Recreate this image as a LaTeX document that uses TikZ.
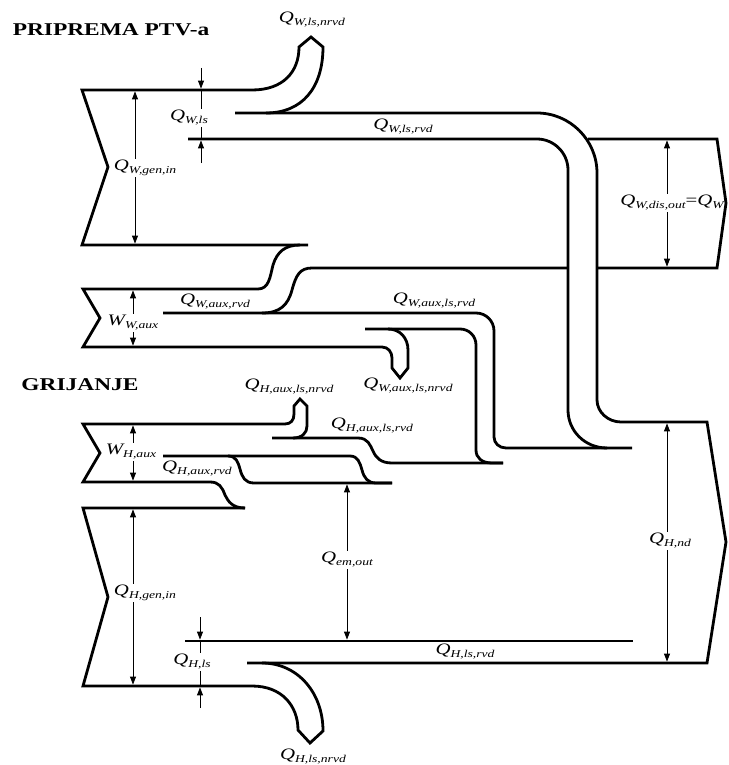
\documentclass[tikz,border=0pt]{standalone}
\usepackage{fontspec}
\setmainfont{Liberation Serif}
\usepackage{graphicx}
\usetikzlibrary{arrows.meta}

\newcommand{\Qlab}[2]{\scalebox{1.3}[1]{\fontsize{16}{18}\selectfont\itshape #1\raisebox{-3pt}{\fontsize{10.5}{12}\selectfont #2}}}
\newcommand{\Titl}[1]{\scalebox{1.3}[1]{\fontsize{18}{20}\selectfont\bfseries #1}}

\tikzset{
 flow/.style={line width=2.8pt, line join=miter, line cap=butt},
 dimline/.style={line width=0.9pt},
 dimboth/.style={line width=0.9pt, {Triangle[length=8pt,width=6pt]}-{Triangle[length=8pt,width=6pt]}},
 dimend/.style={line width=0.9pt, -{Triangle[length=8pt,width=6pt]}},
 lab/.style={inner sep=1pt, fill=white},
 plab/.style={inner sep=1pt},
}

\begin{document}
\begin{tikzpicture}[x=1pt,y=-1pt]
\useasboundingbox (0,0) rectangle (728,765);

% ---------- dimension arrows ----------
\draw[dimboth] (135,91.4) -- (135,243.6);
\draw[dimend] (201,68) -- (201,88.6);
\draw[dimend] (201,163) -- (201,140.4);
\draw[dimline] (201,90) -- (201,139);
\draw[dimboth] (667,140.4) -- (667,266.6);
\draw[dimboth] (133,290.4) -- (133,345.6);
\draw[dimboth] (133,425.4) -- (133,480.6);
\draw[dimboth] (133,509.4) -- (133,684.6);
\draw[dimboth] (347,484.4) -- (347,639.6);
\draw[dimboth] (667,423.4) -- (667,661.6);
\draw[dimend] (200,617) -- (200,639.6);
\draw[dimend] (200,708) -- (200,687.4);
\draw[dimline] (200,641) -- (200,686);

% ---------- labels ----------
\node[plab] (tW) at (111,30) {\Titl{PRIPREMA PTV-a}};
\node[plab] (tH) at (80,385) {\Titl{GRIJANJE}};
\node[plab] (lWlsnrvd) at (312,20) {\Qlab{Q}{W,ls,nrvd}};
\node[lab] (lWls) at (189,118) {\Qlab{Q}{W,ls}};
\node[plab] (lWlsrvd) at (403,127) {\Qlab{Q}{W,ls,rvd}};
\node[lab] (lWgen) at (145,168) {\Qlab{Q}{W,gen,in}};
\node[lab] (lWout) at (672,203) {\scalebox{1.3}[1]{\fontsize{16}{18}\selectfont\itshape Q\raisebox{-3pt}{\fontsize{10.5}{12}\selectfont W,dis,out}\upshape=\itshape Q\raisebox{-3pt}{\fontsize{10.5}{12}\selectfont W}}};
\node[plab] (lWauxrvd) at (215,302) {\Qlab{Q}{W,aux,rvd}};
\node[lab] (lWaux) at (133,323) {\Qlab{W}{W,aux}};
\node[plab] (lWauxlsrvd) at (434,301) {\Qlab{Q}{W,aux,ls,rvd}};
\node[plab] (lWauxlsnrvd) at (408,386) {\Qlab{Q}{W,aux,ls,nrvd}};
\node[plab] (lHauxlsnrvd) at (289,387) {\Qlab{Q}{H,aux,ls,nrvd}};
\node[plab] (lHauxlsrvd) at (372,426) {\Qlab{Q}{H,aux,ls,rvd}};
\node[lab] (lHaux) at (131,452) {\Qlab{W}{H,aux}};
\node[plab] (lHauxrvd) at (197,469) {\Qlab{Q}{H,aux,rvd}};
\node[lab] (lem) at (347,560) {\Qlab{Q}{em,out}};
\node[lab] (lHnd) at (670,541) {\Qlab{Q}{H,nd}};
\node[lab] (lHgen) at (145,593) {\Qlab{Q}{H,gen,in}};
\node[lab] (lHls) at (192,662) {\Qlab{Q}{H,ls}};
\node[plab] (lHlsrvd) at (465,652) {\Qlab{Q}{H,ls,rvd}};
\node[plab] (lHlsnrvd) at (313,757) {\Qlab{Q}{H,ls,nrvd}};

% ---------- W main input with non-recovered loss ----------
\draw[flow] (308,245) -- (82,245) -- (108,167) -- (82,90) -- (252,90)
  .. controls (283,90) and (299,72) .. (299,47) -- (311,37) -- (323,47)
  .. controls (323,88) and (302,113) .. (266,113);

% recovered W loss: outer line, big pipe, H output
\draw[flow] (235,113) -- (537,113) .. controls (570,113) and (597,140) .. (597,173)
  -- (597,400) .. controls (597,412) and (608,422) .. (621,422)
  -- (707,422) -- (726,542) -- (707,663) -- (247,663);

% big pipe inner line
\draw[flow] (188,139) -- (537,139) .. controls (554,139) and (568,153) .. (568,170)
  -- (568,410) .. controls (568,431) and (585,448) .. (607,448) -- (632,448);

% W output box
\draw[flow] (588,139) -- (717,139) -- (726,203) -- (717,268) -- (597,268);
\draw[flow] (568,268) -- (312,268) .. controls (300,268) and (296,275) .. (292,290)
  .. controls (288,305) and (280,313) .. (262,313);

% W aux input
\draw[flow] (300,245) .. controls (285,245) and (277,252) .. (273,265)
  .. controls (270,277) and (269,289) .. (258,289) -- (83,289) -- (100,318) -- (83,347)
  -- (382,347) .. controls (388,347) and (392,352) .. (392,358) -- (392,368)
  -- (400,378) -- (408,368) -- (408,350) .. controls (408,338) and (400,329) .. (388,329);

% W aux loss recovered pipe
\draw[flow] (163,313) -- (476,313) .. controls (486,313) and (494,321) .. (494,331)
  -- (494,437) .. controls (494,443) and (499,448) .. (506,448) -- (607,448);
\draw[flow] (365,329) -- (460,329) .. controls (469,329) and (476,336) .. (476,345)
  -- (476,450) .. controls (476,458) and (482,463) .. (492,463) -- (503,463);

% H aux input
\draw[flow] (245,508) .. controls (232,508) and (228,501) .. (225,495)
  .. controls (222,487) and (219,482) .. (210,482) -- (83,482) -- (100,453) -- (83,424)
  -- (285,424) .. controls (291,424) and (294,420) .. (294,414) -- (294,406)
  -- (300,399) -- (307,406) -- (307,426) .. controls (307,433) and (302,438) .. (293,438);

% H aux loss recovered
\draw[flow] (272,438) -- (358,438) .. controls (368,438) and (370,445) .. (373,451)
  .. controls (376,458) and (381,463) .. (392,463) -- (503,463);

% H aux recovered
\draw[flow] (163,456) -- (350,456) .. controls (358,456) and (360,463) .. (362,470)
  .. controls (364,478) and (368,483) .. (376,483) -- (392,483);
\draw[flow] (228,456) .. controls (236,456) and (238,462) .. (240,469)
  .. controls (242,477) and (245,483) .. (254,483) -- (392,483);

% H main input
\draw[flow] (245,508) -- (83,508) -- (108,597) -- (83,686) -- (252,686)
  .. controls (282,686) and (298,706) .. (298,730) -- (310,743) -- (323,731)
  .. controls (323,692) and (297,663) .. (262,663);

% H loss recovered line
\draw[flow] (185,641) -- (633,641);

\end{tikzpicture}
\end{document}
